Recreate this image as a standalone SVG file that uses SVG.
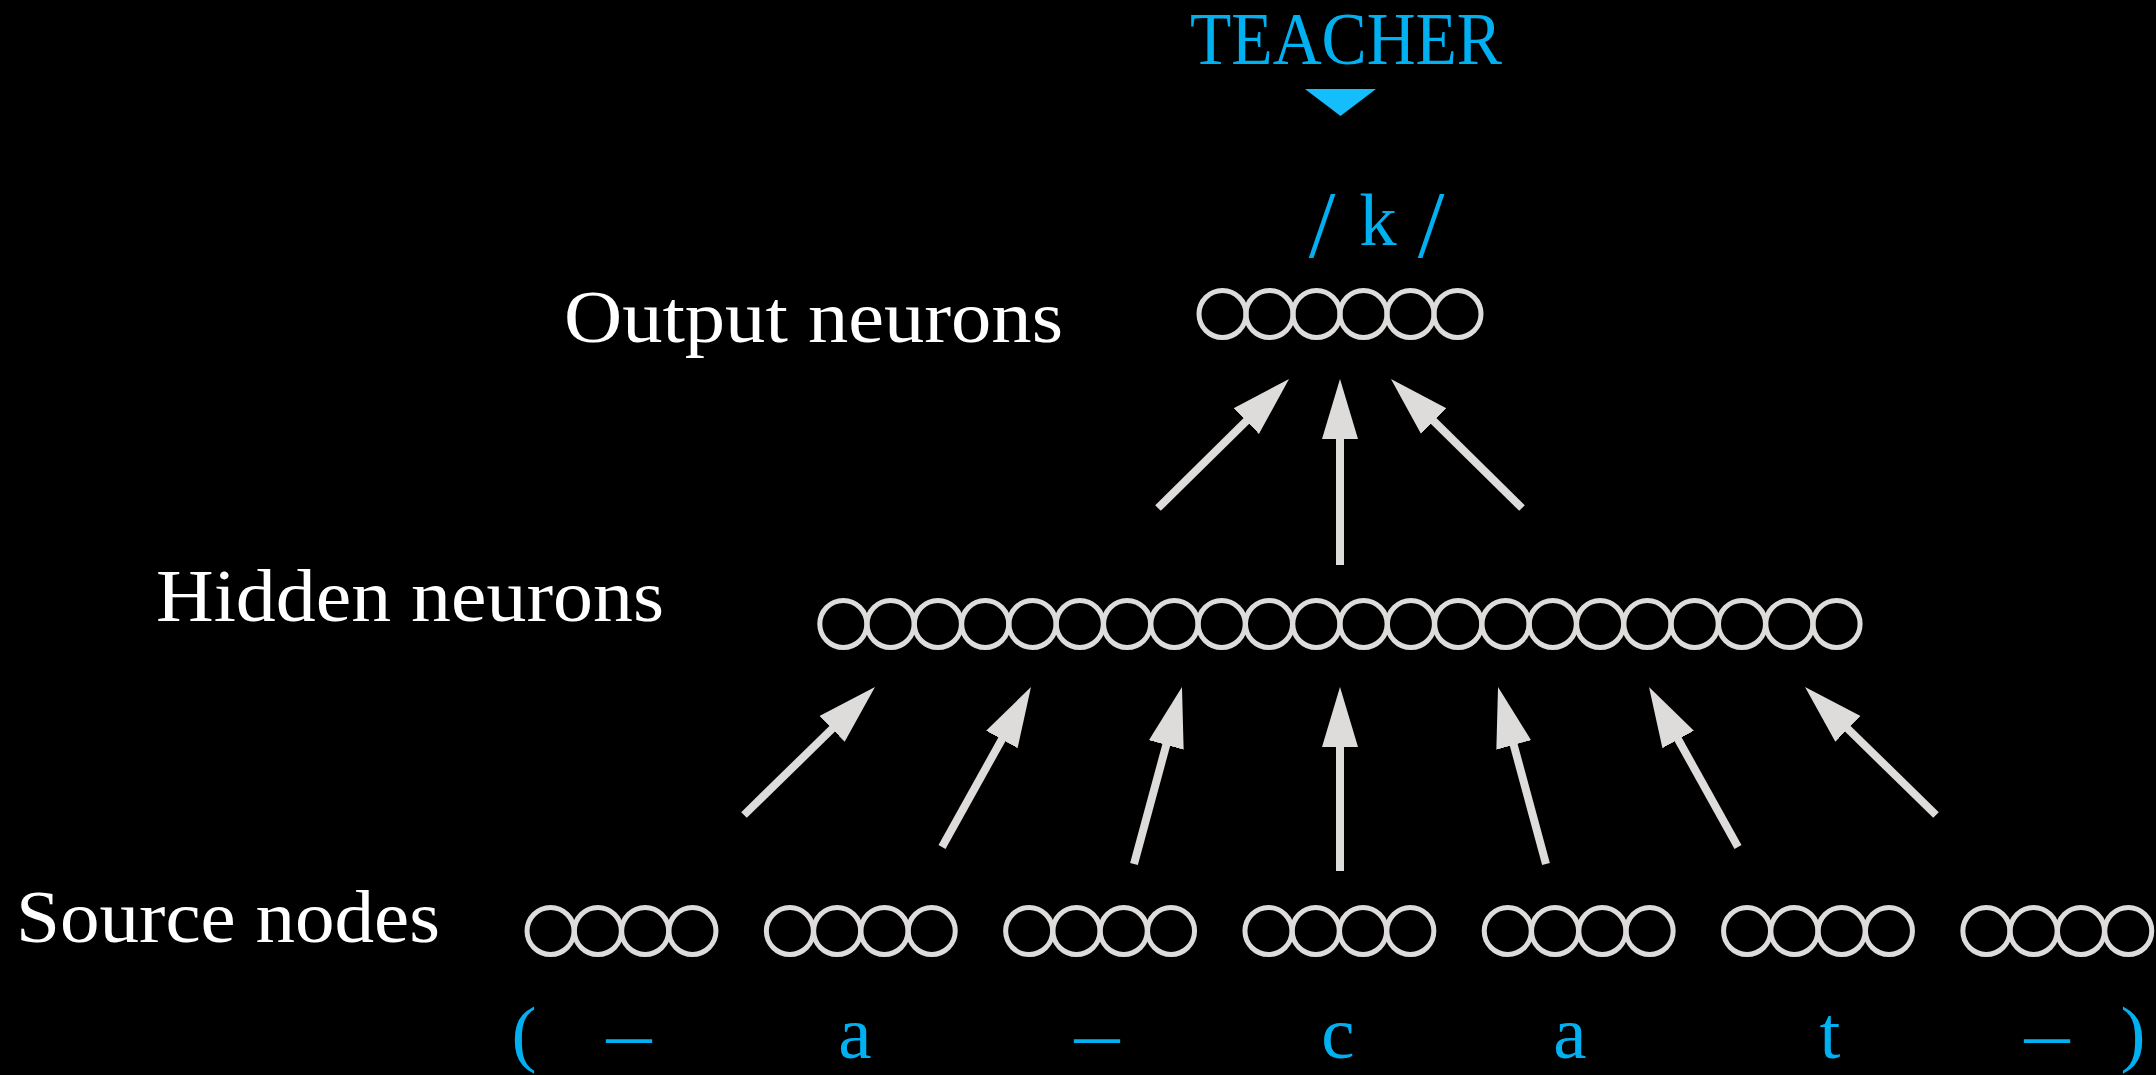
<svg xmlns="http://www.w3.org/2000/svg" width="2156" height="1075" viewBox="0 0 2156 1075">
<style>
.neu{fill:none;stroke:#DEDBDB;stroke-width:5}
.lbl{font-family:"Liberation Serif","DejaVu Serif",serif;font-size:74px;fill:#FFFFFF}
.blue{font-family:"Liberation Serif","DejaVu Serif",serif;font-size:75px;fill:#00B0F0}
.slash{font-size:96px}
.conn{stroke:#DEDBDB;stroke-width:8;fill:none;marker-end:url(#ah)}
</style>
<defs>
<marker id="ah" markerUnits="userSpaceOnUse" markerWidth="62" markerHeight="40" viewBox="0 -20 62 40" refX="2" refY="0" orient="auto">
<path d="M0,-18 L60,0 L0,18 z" fill="#DEDBDB"/>
</marker>
</defs>
<rect width="2156" height="1075" fill="#000000"/>

<g id="teacher">
<text class="blue" x="1346" y="64" text-anchor="middle" textLength="312" lengthAdjust="spacingAndGlyphs">TEACHER</text>
<polygon points="1305,89 1376,89 1340.5,116" fill="#14BDFB"/>
</g>
<g id="target">
<text class="blue slash" x="1322" y="257" text-anchor="middle">/</text>
<text class="blue" x="1378" y="245" text-anchor="middle">k</text>
<text class="blue slash" x="1431" y="257" text-anchor="middle">/</text>
</g>

<g id="label-output"><text class="lbl" x="564" y="342" textLength="499" lengthAdjust="spacingAndGlyphs">Output neurons</text></g>
<g id="label-hidden"><text class="lbl" x="156" y="621" textLength="508" lengthAdjust="spacingAndGlyphs">Hidden neurons</text></g>
<g id="label-source"><text class="lbl" x="16" y="942" textLength="424" lengthAdjust="spacingAndGlyphs">Source nodes</text></g>

<g id="output-layer">
<circle class="neu" cx="1222.5" cy="314" r="23.5"/>
<circle class="neu" cx="1269.5" cy="314" r="23.5"/>
<circle class="neu" cx="1316.5" cy="314" r="23.5"/>
<circle class="neu" cx="1363.5" cy="314" r="23.5"/>
<circle class="neu" cx="1410.5" cy="314" r="23.5"/>
<circle class="neu" cx="1457.5" cy="314" r="23.5"/>
</g>

<g id="hidden-layer">
<circle class="neu" cx="843.3" cy="624" r="23.5"/>
<circle class="neu" cx="890.6" cy="624" r="23.5"/>
<circle class="neu" cx="937.9" cy="624" r="23.5"/>
<circle class="neu" cx="985.2" cy="624" r="23.5"/>
<circle class="neu" cx="1032.5" cy="624" r="23.5"/>
<circle class="neu" cx="1079.8" cy="624" r="23.5"/>
<circle class="neu" cx="1127.1" cy="624" r="23.5"/>
<circle class="neu" cx="1174.4" cy="624" r="23.5"/>
<circle class="neu" cx="1221.7" cy="624" r="23.5"/>
<circle class="neu" cx="1269.0" cy="624" r="23.5"/>
<circle class="neu" cx="1316.3" cy="624" r="23.5"/>
<circle class="neu" cx="1363.6" cy="624" r="23.5"/>
<circle class="neu" cx="1410.9" cy="624" r="23.5"/>
<circle class="neu" cx="1458.2" cy="624" r="23.5"/>
<circle class="neu" cx="1505.5" cy="624" r="23.5"/>
<circle class="neu" cx="1552.8" cy="624" r="23.5"/>
<circle class="neu" cx="1600.1" cy="624" r="23.5"/>
<circle class="neu" cx="1647.4" cy="624" r="23.5"/>
<circle class="neu" cx="1694.7" cy="624" r="23.5"/>
<circle class="neu" cx="1742.0" cy="624" r="23.5"/>
<circle class="neu" cx="1789.3" cy="624" r="23.5"/>
<circle class="neu" cx="1836.6" cy="624" r="23.5"/>
</g>

<defs>
<g id="quad">
<circle class="neu" cx="-70.95" cy="0" r="23.5"/>
<circle class="neu" cx="-23.65" cy="0" r="23.5"/>
<circle class="neu" cx="23.65" cy="0" r="23.5"/>
<circle class="neu" cx="70.95" cy="0" r="23.5"/>
</g>
</defs>
<g id="source-layer">
<g id="source-1"><use href="#quad" x="621.5" y="931"/></g>
<g id="source-2"><use href="#quad" x="860.8" y="931"/></g>
<g id="source-3"><use href="#quad" x="1100.1" y="931"/></g>
<g id="source-4"><use href="#quad" x="1339.4" y="931"/></g>
<g id="source-5"><use href="#quad" x="1578.7" y="931"/></g>
<g id="source-6"><use href="#quad" x="1818" y="931"/></g>
<g id="source-7"><use href="#quad" x="2057.3" y="931"/></g>
</g>

<g id="input-text">
<text class="blue" x="524" y="1058" text-anchor="middle">(</text>
<text class="blue" x="629" y="1058" text-anchor="middle" textLength="45" lengthAdjust="spacingAndGlyphs">–</text>
<text class="blue" x="855" y="1058" text-anchor="middle">a</text>
<text class="blue" x="1097" y="1058" text-anchor="middle" textLength="45" lengthAdjust="spacingAndGlyphs">–</text>
<text class="blue" x="1338" y="1058" text-anchor="middle">c</text>
<text class="blue" x="1570" y="1058" text-anchor="middle">a</text>
<text class="blue" x="1830" y="1058" text-anchor="middle">t</text>
<text class="blue" x="2047" y="1058" text-anchor="middle" textLength="45" lengthAdjust="spacingAndGlyphs">–</text>
<text class="blue" x="2133" y="1058" text-anchor="middle">)</text>
</g>

<g id="connectors">
<line class="conn" x1="1158" y1="508" x2="1247.7" y2="419.7"/>
<line class="conn" x1="1340" y1="565" x2="1340" y2="437"/>
<line class="conn" x1="1522" y1="508" x2="1432.3" y2="419.7"/>
<line class="conn" x1="744" y1="815" x2="833.5" y2="727.5"/>
<line class="conn" x1="942" y1="847" x2="1002.8" y2="737.7"/>
<line class="conn" x1="1134" y1="864" x2="1166.8" y2="743"/>
<line class="conn" x1="1340" y1="871" x2="1340" y2="745"/>
<line class="conn" x1="1546" y1="864" x2="1513.2" y2="743"/>
<line class="conn" x1="1738" y1="847" x2="1677.2" y2="737.7"/>
<line class="conn" x1="1936" y1="815" x2="1846.5" y2="727.5"/>
</g>
</svg>
